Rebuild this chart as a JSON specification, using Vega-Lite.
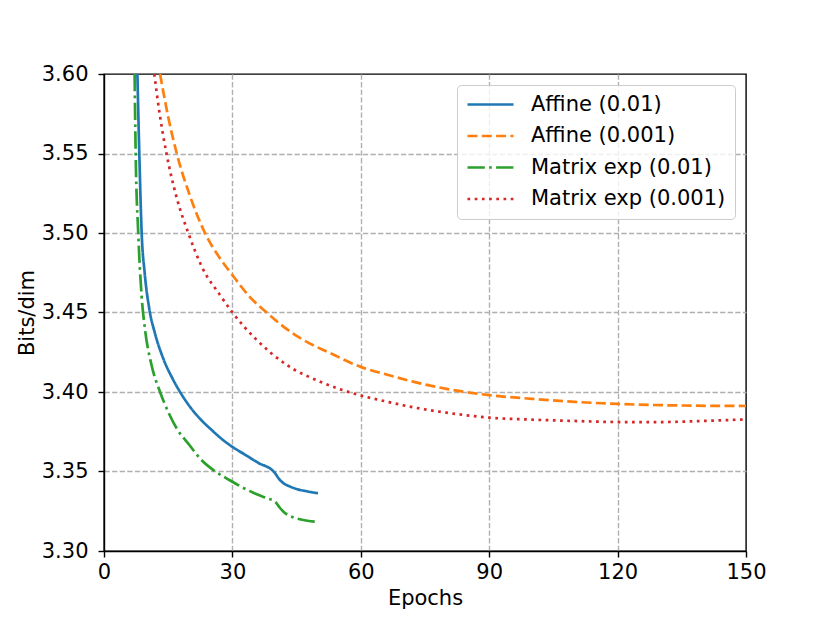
{
  "$schema": "https://vega.github.io/schema/vega-lite/v6.json",
  "width": 642,
  "height": 477,
  "autosize": "none",
  "padding": {"left": 104, "top": 74, "right": 84, "bottom": 68},
  "background": "white",
  "config": {
    "font": "DejaVu Sans",
    "view": {"stroke": "black", "strokeWidth": 1.4},
    "axis": {
      "domainColor": "black",
      "domainWidth": 1.4,
      "tickColor": "black",
      "tickWidth": 1.4,
      "tickSize": 6,
      "labelFont": "DejaVu Sans",
      "labelFontSize": 21,
      "labelColor": "black",
      "titleFont": "DejaVu Sans",
      "titleFontSize": 21,
      "titleFontWeight": "normal",
      "titleColor": "black",
      "grid": true,
      "gridColor": "#b0b0b0",
      "gridWidth": 1.4,
      "gridDash": [5.3, 2.3]
    }
  },
  "data": {
    "values": [
      {"series": "Affine (0.01)", "epoch": 7.8, "bpd": 3.6},
      {"series": "Affine (0.01)", "epoch": 8.25, "bpd": 3.55},
      {"series": "Affine (0.01)", "epoch": 8.8, "bpd": 3.5},
      {"series": "Affine (0.01)", "epoch": 9.5, "bpd": 3.475},
      {"series": "Affine (0.01)", "epoch": 10.6, "bpd": 3.452},
      {"series": "Affine (0.01)", "epoch": 12, "bpd": 3.436},
      {"series": "Affine (0.01)", "epoch": 14, "bpd": 3.42},
      {"series": "Affine (0.01)", "epoch": 16, "bpd": 3.4085},
      {"series": "Affine (0.01)", "epoch": 18, "bpd": 3.399},
      {"series": "Affine (0.01)", "epoch": 20, "bpd": 3.391},
      {"series": "Affine (0.01)", "epoch": 22.5, "bpd": 3.383},
      {"series": "Affine (0.01)", "epoch": 25, "bpd": 3.3765},
      {"series": "Affine (0.01)", "epoch": 27.5, "bpd": 3.3705},
      {"series": "Affine (0.01)", "epoch": 30, "bpd": 3.3655},
      {"series": "Affine (0.01)", "epoch": 33, "bpd": 3.3605},
      {"series": "Affine (0.01)", "epoch": 36, "bpd": 3.3555},
      {"series": "Affine (0.01)", "epoch": 39.8, "bpd": 3.3495},
      {"series": "Affine (0.01)", "epoch": 41, "bpd": 3.345},
      {"series": "Affine (0.01)", "epoch": 42, "bpd": 3.3425},
      {"series": "Affine (0.01)", "epoch": 43.5, "bpd": 3.3405},
      {"series": "Affine (0.01)", "epoch": 45, "bpd": 3.339},
      {"series": "Affine (0.01)", "epoch": 47.5, "bpd": 3.3375},
      {"series": "Affine (0.01)", "epoch": 50, "bpd": 3.3363},
      {"series": "Affine (0.001)", "epoch": 13.1, "bpd": 3.6},
      {"series": "Affine (0.001)", "epoch": 15, "bpd": 3.573},
      {"series": "Affine (0.001)", "epoch": 17, "bpd": 3.55},
      {"series": "Affine (0.001)", "epoch": 20, "bpd": 3.524},
      {"series": "Affine (0.001)", "epoch": 23.6, "bpd": 3.5},
      {"series": "Affine (0.001)", "epoch": 27.1, "bpd": 3.4841},
      {"series": "Affine (0.001)", "epoch": 30, "bpd": 3.4736},
      {"series": "Affine (0.001)", "epoch": 34, "bpd": 3.46},
      {"series": "Affine (0.001)", "epoch": 38, "bpd": 3.45},
      {"series": "Affine (0.001)", "epoch": 42, "bpd": 3.441},
      {"series": "Affine (0.001)", "epoch": 46.6, "bpd": 3.4327},
      {"series": "Affine (0.001)", "epoch": 52.8, "bpd": 3.4245},
      {"series": "Affine (0.001)", "epoch": 60, "bpd": 3.4158},
      {"series": "Affine (0.001)", "epoch": 66, "bpd": 3.411},
      {"series": "Affine (0.001)", "epoch": 72.2, "bpd": 3.4065},
      {"series": "Affine (0.001)", "epoch": 80, "bpd": 3.402},
      {"series": "Affine (0.001)", "epoch": 90, "bpd": 3.398},
      {"series": "Affine (0.001)", "epoch": 100, "bpd": 3.3957},
      {"series": "Affine (0.001)", "epoch": 110, "bpd": 3.3938},
      {"series": "Affine (0.001)", "epoch": 120, "bpd": 3.3925},
      {"series": "Affine (0.001)", "epoch": 135, "bpd": 3.3915},
      {"series": "Affine (0.001)", "epoch": 150, "bpd": 3.3912},
      {"series": "Matrix exp (0.01)", "epoch": 7.15, "bpd": 3.6},
      {"series": "Matrix exp (0.01)", "epoch": 7.4, "bpd": 3.55},
      {"series": "Matrix exp (0.01)", "epoch": 8.0, "bpd": 3.5},
      {"series": "Matrix exp (0.01)", "epoch": 8.8, "bpd": 3.46},
      {"series": "Matrix exp (0.01)", "epoch": 9.6, "bpd": 3.439},
      {"series": "Matrix exp (0.01)", "epoch": 11.1, "bpd": 3.417},
      {"series": "Matrix exp (0.01)", "epoch": 13.1, "bpd": 3.4},
      {"series": "Matrix exp (0.01)", "epoch": 15, "bpd": 3.3875},
      {"series": "Matrix exp (0.01)", "epoch": 17, "bpd": 3.377},
      {"series": "Matrix exp (0.01)", "epoch": 20, "bpd": 3.3665},
      {"series": "Matrix exp (0.01)", "epoch": 22.5, "bpd": 3.358},
      {"series": "Matrix exp (0.01)", "epoch": 25.5, "bpd": 3.351},
      {"series": "Matrix exp (0.01)", "epoch": 29.4, "bpd": 3.3445},
      {"series": "Matrix exp (0.01)", "epoch": 32, "bpd": 3.3405},
      {"series": "Matrix exp (0.01)", "epoch": 35, "bpd": 3.3365},
      {"series": "Matrix exp (0.01)", "epoch": 38, "bpd": 3.3333},
      {"series": "Matrix exp (0.01)", "epoch": 40, "bpd": 3.331},
      {"series": "Matrix exp (0.01)", "epoch": 41, "bpd": 3.3275},
      {"series": "Matrix exp (0.01)", "epoch": 42, "bpd": 3.3245},
      {"series": "Matrix exp (0.01)", "epoch": 43.5, "bpd": 3.322},
      {"series": "Matrix exp (0.01)", "epoch": 45, "bpd": 3.3205},
      {"series": "Matrix exp (0.01)", "epoch": 47.5, "bpd": 3.319},
      {"series": "Matrix exp (0.01)", "epoch": 50, "bpd": 3.3183},
      {"series": "Matrix exp (0.001)", "epoch": 11.75, "bpd": 3.6},
      {"series": "Matrix exp (0.001)", "epoch": 13, "bpd": 3.575},
      {"series": "Matrix exp (0.001)", "epoch": 14.6, "bpd": 3.55},
      {"series": "Matrix exp (0.001)", "epoch": 17, "bpd": 3.522},
      {"series": "Matrix exp (0.001)", "epoch": 19.7, "bpd": 3.5},
      {"series": "Matrix exp (0.001)", "epoch": 23, "bpd": 3.478},
      {"series": "Matrix exp (0.001)", "epoch": 27.1, "bpd": 3.461},
      {"series": "Matrix exp (0.001)", "epoch": 30, "bpd": 3.45},
      {"series": "Matrix exp (0.001)", "epoch": 35.7, "bpd": 3.4327},
      {"series": "Matrix exp (0.001)", "epoch": 42.7, "bpd": 3.417},
      {"series": "Matrix exp (0.001)", "epoch": 50.5, "bpd": 3.4065},
      {"series": "Matrix exp (0.001)", "epoch": 60, "bpd": 3.3978},
      {"series": "Matrix exp (0.001)", "epoch": 66, "bpd": 3.394},
      {"series": "Matrix exp (0.001)", "epoch": 72.2, "bpd": 3.3904},
      {"series": "Matrix exp (0.001)", "epoch": 80, "bpd": 3.387},
      {"series": "Matrix exp (0.001)", "epoch": 90, "bpd": 3.3839},
      {"series": "Matrix exp (0.001)", "epoch": 100, "bpd": 3.3826},
      {"series": "Matrix exp (0.001)", "epoch": 107.3, "bpd": 3.382},
      {"series": "Matrix exp (0.001)", "epoch": 120, "bpd": 3.3811},
      {"series": "Matrix exp (0.001)", "epoch": 128, "bpd": 3.381},
      {"series": "Matrix exp (0.001)", "epoch": 140, "bpd": 3.3818},
      {"series": "Matrix exp (0.001)", "epoch": 150, "bpd": 3.3828}
    ]
  },
  "mark": {"type": "line", "strokeWidth": 2.7, "clip": true, "strokeCap": "butt", "interpolate": "monotone"},
  "encoding": {
    "x": {
      "field": "epoch",
      "type": "quantitative",
      "title": "Epochs",
      "scale": {"domain": [0, 150], "nice": false, "zero": false},
      "axis": {
        "values": [0, 30, 60, 90, 120, 150],
        "labelPadding": 4,
        "titlePadding": 5,
        "labelFlush": false,
        "gridOpacity": {"condition": {"test": "datum.value == 0 || datum.value == 150", "value": 0}, "value": 1}
      }
    },
    "y": {
      "field": "bpd",
      "type": "quantitative",
      "title": "Bits/dim",
      "scale": {"domain": [3.3, 3.6], "nice": false, "zero": false},
      "axis": {
        "values": [3.3, 3.35, 3.4, 3.45, 3.5, 3.55, 3.6],
        "format": ".2f",
        "labelPadding": 10,
        "titlePadding": 4,
        "labelFlush": false,
        "gridOpacity": {"condition": {"test": "datum.value < 3.31 || datum.value > 3.59", "value": 0}, "value": 1}
      }
    },
    "color": {
      "field": "series",
      "type": "nominal",
      "scale": {
        "domain": ["Affine (0.01)", "Affine (0.001)", "Matrix exp (0.01)", "Matrix exp (0.001)"],
        "range": ["#1f77b4", "#ff7f0e", "#2ca02c", "#d62728"]
      },
      "legend": {
        "title": null,
        "orient": "none",
        "legendX": 353,
        "legendY": 11,
        "symbolType": "stroke",
        "symbolSize": 2116,
        "symbolStrokeWidth": 2.7,
        "clipHeight": 21,
        "rowPadding": 9.5,
        "labelOffset": 16,
        "labelFont": "DejaVu Sans",
        "labelFontSize": 21,
        "labelColor": "black",
        "labelLimit": 400,
        "padding": 9,
        "strokeColor": "#cccccc",
        "fillColor": "rgba(255,255,255,0.8)",
        "cornerRadius": 4
      }
    },
    "strokeDash": {
      "field": "series",
      "type": "nominal",
      "scale": {
        "domain": ["Affine (0.01)", "Affine (0.001)", "Matrix exp (0.01)", "Matrix exp (0.001)"],
        "range": [[1, 0], [10, 4.3], [17.3, 4.3, 2.7, 4.3], [2.7, 4.5]]
      },
      "legend": null
    }
  }
}
